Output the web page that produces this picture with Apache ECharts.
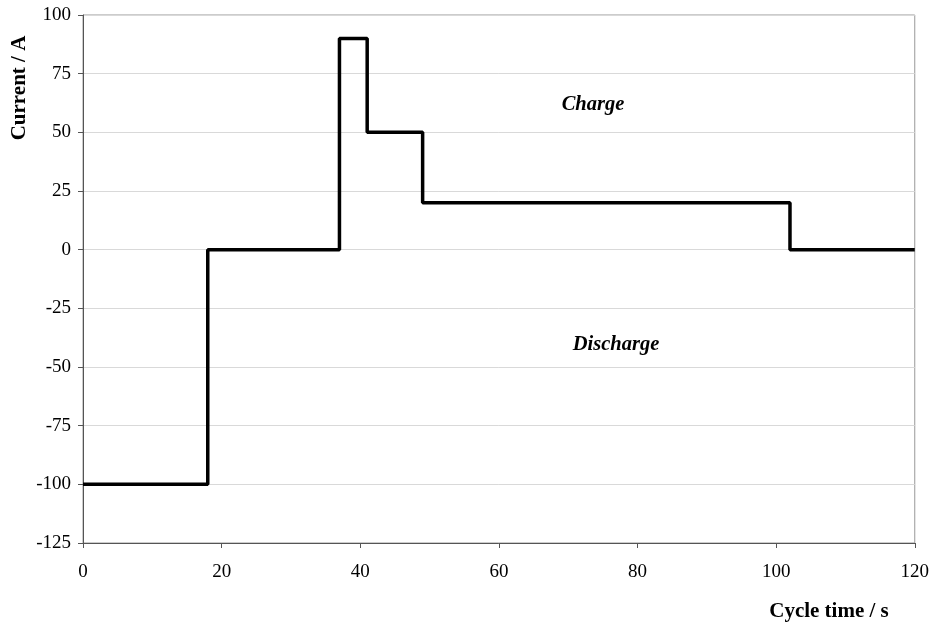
<!DOCTYPE html>
<html>
<head>
<meta charset="utf-8">
<script src="https://cdn.jsdelivr.net/npm/echarts@6/dist/echarts.min.js"></script>
<style>html,body{margin:0;padding:0;background:#fff;}#c{width:932px;height:626px;}</style>
</head>
<body>
<div id="c"></div>
<script>
var timeS = [0, 18, 18, 37, 37, 41, 41, 49, 49, 102, 102, 120];
var currentA = [-100, -100, 0, 0, 90, 90, 50, 50, 20, 20, 0, 0];
var xTicks = [0, 20, 40, 60, 80, 100, 120];
var yTicks = [-125, -100, -75, -50, -25, 0, 25, 50, 75, 100];

var chart = echarts.init(document.getElementById('c'));
var font = '"Liberation Serif", "Times New Roman", serif';
chart.setOption({
  animation: false,
  backgroundColor: '#fff',
  grid: {left: 83, right: 17, top: 15, bottom: 83, show: true, borderColor: '#999', borderWidth: 1},
  xAxis: {
    type: 'value', min: 0, max: 120, interval: 20,
    axisLine: {show: true, onZero: false, lineStyle: {color: '#555', width: 1}},
    axisTick: {show: true, length: 5, lineStyle: {color: '#555'}},
    axisLabel: {color: '#000', fontFamily: font, fontSize: 19, margin: 20},
    splitLine: {show: false}
  },
  yAxis: {
    type: 'value', min: -125, max: 100, interval: 25,
    axisLine: {show: true, onZero: false, lineStyle: {color: '#555', width: 1}},
    axisTick: {show: true, length: 5, lineStyle: {color: '#555'}},
    axisLabel: {color: '#000', fontFamily: font, fontSize: 19, margin: 12},
    splitLine: {show: true, lineStyle: {color: '#d9d9d9', width: 1}}
  },
  series: [{
    type: 'line',
    data: timeS.map(function (t, i) { return [t, currentA[i]]; }),
    showSymbol: false,
    lineStyle: {color: '#000', width: 3.5},
    z: 5
  }],
  graphic: [
    {type: 'text', x: 20, y: 88, rotation: Math.PI / 2, style: {text: 'Current / A', fontFamily: font, fontSize: 21, fontWeight: 'bold', fill: '#000', align: 'center', verticalAlign: 'middle'}},
    {type: 'text', x: 829, y: 612, style: {text: 'Cycle time / s', fontFamily: font, fontSize: 21, fontWeight: 'bold', fill: '#000', align: 'center', verticalAlign: 'middle'}},
    {type: 'text', x: 593, y: 105, style: {text: 'Charge', fontFamily: font, fontSize: 20.5, fontWeight: 'bold', fontStyle: 'italic', fill: '#000', align: 'center', verticalAlign: 'middle'}},
    {type: 'text', x: 616, y: 345, style: {text: 'Discharge', fontFamily: font, fontSize: 20.5, fontWeight: 'bold', fontStyle: 'italic', fill: '#000', align: 'center', verticalAlign: 'middle'}}
  ]
});
</script>
</body>
</html>
